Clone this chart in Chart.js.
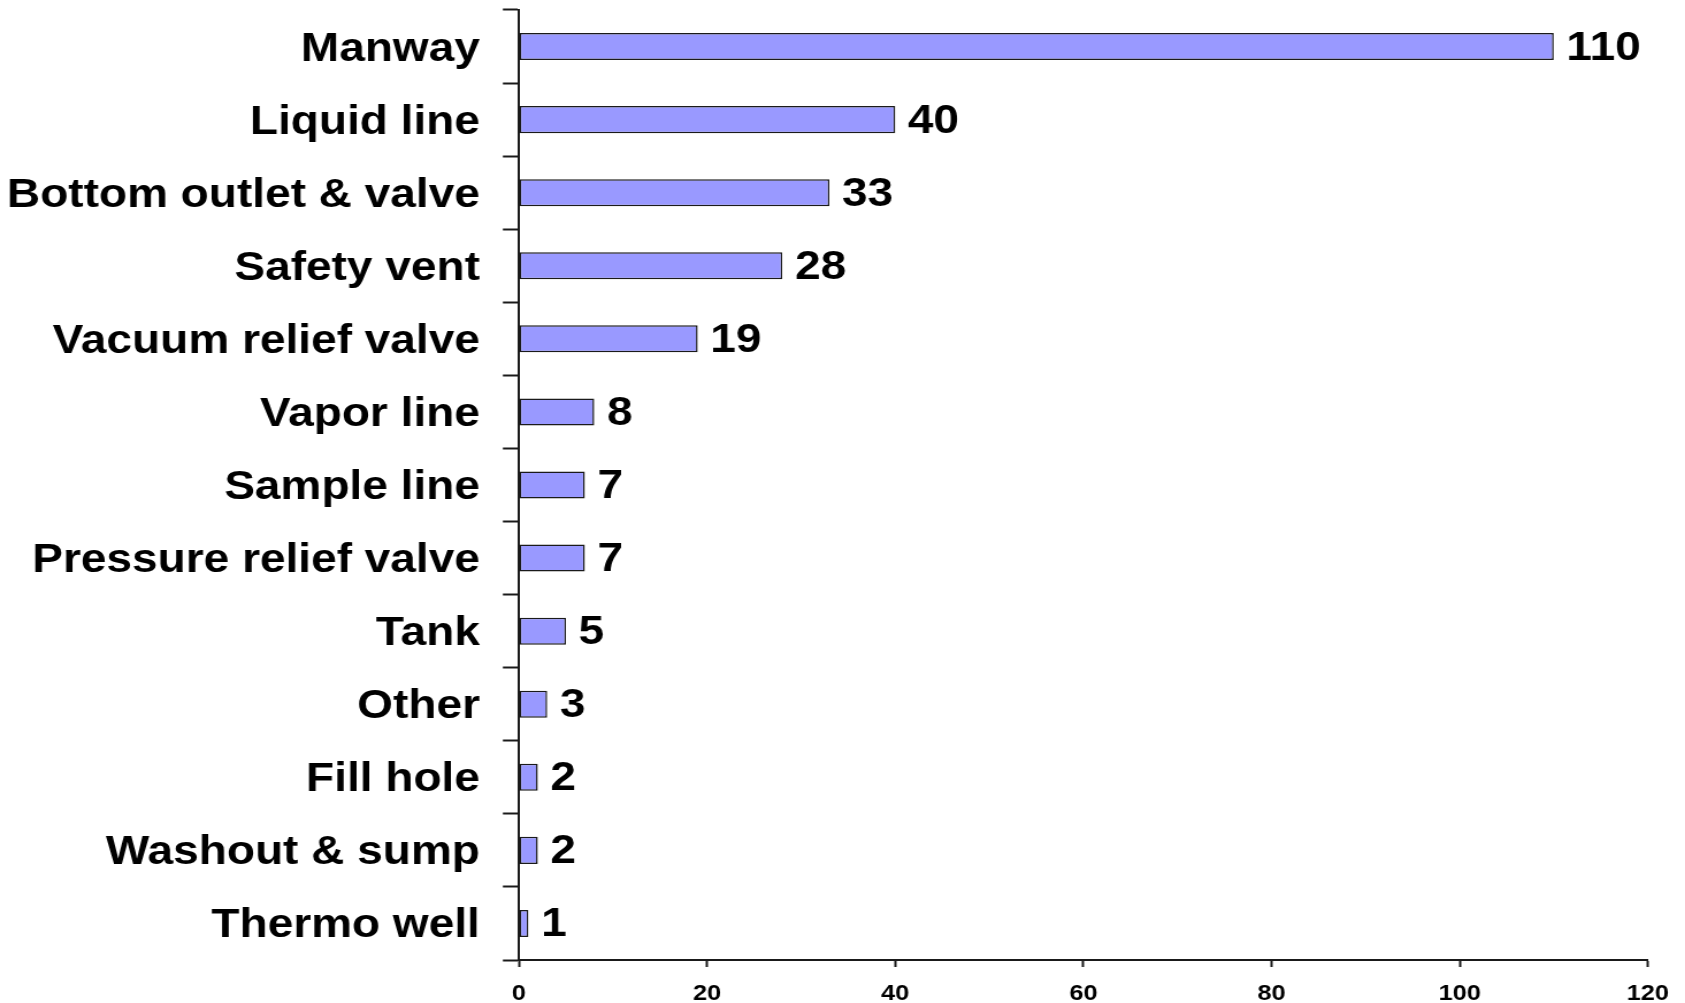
<!DOCTYPE html>
<html>
<head>
<meta charset="utf-8">
<title>Component failures</title>
<script src="https://cdn.jsdelivr.net/npm/chart.js@4.4.1/dist/chart.umd.min.js"></script>
<style>
    html, body {
        margin: 0;
        padding: 0;
        background: #ffffff;
        overflow: hidden;
    }
    /* the original picture is stretched horizontally, so the chart is drawn narrower and scaled */
    .chart-wrap {
        width: 1465px;
        height: 1003px;
        transform: scaleX(1.1502);
        transform-origin: 0 0;
    }
</style>
</head>
<body>
<div class="chart-wrap">
    <canvas id="componentChart"></canvas>
</div>
<script>
// Datos del gráfico
const components = [
    'Manway',
    'Liquid line',
    'Bottom outlet & valve',
    'Safety vent',
    'Vacuum relief valve',
    'Vapor line',
    'Sample line',
    'Pressure relief valve',
    'Tank',
    'Other',
    'Fill hole',
    'Washout & sump',
    'Thermo well'
];
const counts = [110, 40, 33, 28, 19, 8, 7, 7, 5, 3, 2, 2, 1];
const xTicks = [0, 20, 40, 60, 80, 100, 120];

window.componentChartInstance = null;

// Plugin para escribir el valor al final de cada barra
const valueLabels = {
    id: 'valueLabels',
    afterDatasetsDraw(chart) {
        const ctx = chart.ctx;
        const meta = chart.getDatasetMeta(0);
        ctx.save();
        ctx.font = 'bold 40px "Liberation Sans", Arial, sans-serif';
        ctx.fillStyle = '#000000';
        ctx.textAlign = 'left';
        ctx.textBaseline = 'middle';
        meta.data.forEach((bar, i) => {
            ctx.fillText(String(counts[i]), bar.x + 11, bar.y + 2);
        });
        ctx.restore();
    }
};

function initComponentChart() {
    try {
        const ctx = document.getElementById('componentChart').getContext('2d');
        Chart.defaults.font.family = '"Liberation Sans", Arial, sans-serif';
        Chart.defaults.color = '#000000';

        window.componentChartInstance = new Chart(ctx, {
            type: 'bar',
            data: {
                labels: components,
                datasets: [{
                    data: counts,
                    backgroundColor: '#9999ff',
                    borderColor: '#1a1a1a',
                    borderWidth: 1.5,
                    borderSkipped: false,
                    categoryPercentage: 1,
                    barPercentage: 0.37
                }]
            },
            options: {
                indexAxis: 'y',
                responsive: true,
                maintainAspectRatio: false,
                animation: false,
                layout: {
                    padding: { top: 10, right: 30.5, bottom: 0, left: 0 }
                },
                plugins: {
                    legend: { display: false },
                    tooltip: { enabled: false }
                },
                scales: {
                    x: {
                        min: xTicks[0],
                        max: xTicks[xTicks.length - 1],
                        afterBuildTicks: function(scale) {
                            scale.ticks = xTicks.map(v => ({ value: v }));
                        },
                        afterFit: function(scale) {
                            scale.height = 43;
                        },
                        border: { display: true, color: '#1a1a1a', width: 2 },
                        grid: {
                            drawOnChartArea: false,
                            drawTicks: true,
                            tickLength: 7,
                            tickWidth: 2,
                            tickColor: '#1a1a1a'
                        },
                        ticks: {
                            padding: 14,
                            maxRotation: 0,
                            font: { size: 22, weight: 'bold' }
                        }
                    },
                    y: {
                        afterFit: function(scale) {
                            // ancho fijo y sin margen extra arriba/abajo por las etiquetas grandes
                            scale.width = 451.2;
                            scale.paddingTop = 0;
                            scale.paddingBottom = 0;
                        },
                        border: { display: true, color: '#1a1a1a', width: 2 },
                        grid: {
                            drawOnChartArea: false,
                            drawTicks: true,
                            tickLength: 14,
                            tickWidth: 2,
                            tickColor: '#1a1a1a'
                        },
                        ticks: {
                            padding: 20,
                            labelOffset: 3,
                            autoSkip: false,
                            font: { size: 40, weight: 'bold' }
                        }
                    }
                }
            },
            plugins: [valueLabels]
        });
    } catch (error) {
        console.error('Error al inicializar el gráfico:', error);
    }
}

if (document.readyState === 'loading') {
    document.addEventListener('DOMContentLoaded', initComponentChart);
} else {
    initComponentChart();
}
</script>
</body>
</html>
